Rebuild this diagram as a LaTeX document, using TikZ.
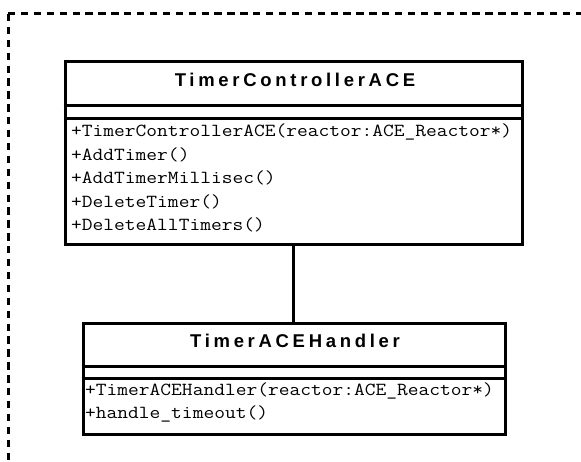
\documentclass[tikz,border=0pt]{standalone}
\usepackage{fontspec}
\setmainfont{Liberation Sans}
\newfontfamily\classnamefont[LetterSpace=20]{Liberation Sans}
\newfontfamily\memberfont[FakeStretch=1.135]{Latin Modern Mono}
\begin{document}
\begin{tikzpicture}[x=1pt,y=-1pt,
    frame/.style={line width=3pt,dash pattern=on 7.3pt off 5.6pt},
    umlbox/.style={draw,line width=3pt,rectangle,inner sep=0pt},
    sepline/.style={line width=3pt},
    classname/.style={inner sep=0pt,anchor=base,
      font=\classnamefont\bfseries\fontsize{18.5}{21}\selectfont},
    member/.style={inner sep=0pt,anchor=base west,
      font=\memberfont\fontsize{18.4}{23.5}\selectfont},
    assoc/.style={line width=3pt}]
\useasboundingbox (0,0) rectangle (581,462);

% package frame (dashed)
\coordinate (fcorner) at (8,14);
\coordinate (fbottom) at (8,475);
\coordinate (fright) at (595,14);
\draw[frame] (fcorner) -- (fbottom);
\draw[frame] (fcorner) -- (fright);

% class TimerControllerACE
\node[umlbox,minimum width=457pt,minimum height=183pt] (ctrl) at (293.5,153.5) {};
\draw[sepline] (ctrl.west |- 0,106) -- (ctrl.east |- 0,106);
\draw[sepline] (ctrl.west |- 0,119) -- (ctrl.east |- 0,119);
\node[classname] (ctrlname) at (295,86.3) {TimerControllerACE};
\node[member] (ctrlop1) at (71,137) {+TimerControllerACE(reactor:ACE\_Reactor*)};
\node[member] (ctrlop2) at (71,160.5) {+AddTimer()};
\node[member] (ctrlop3) at (71,184) {+AddTimerMillisec()};
\node[member] (ctrlop4) at (71,207.5) {+DeleteTimer()};
\node[member] (ctrlop5) at (71,231) {+DeleteAllTimers()};

% class TimerACEHandler
\node[umlbox,minimum width=422pt,minimum height=110pt] (handler) at (294,379) {};
\draw[sepline] (handler.west |- 0,366) -- (handler.east |- 0,366);
\draw[sepline] (handler.west |- 0,378) -- (handler.east |- 0,378);
\node[classname] (handlername) at (295,347) {TimerACEHandler};
\node[member] (handlerop1) at (85,395) {+TimerACEHandler(reactor:ACE\_Reactor*)};
\node[member] (handlerop2) at (85,418.5) {+handle\_timeout()};

% association
\draw[assoc] (ctrl.south) -- (ctrl.south |- handler.north);
\end{tikzpicture}
\end{document}
